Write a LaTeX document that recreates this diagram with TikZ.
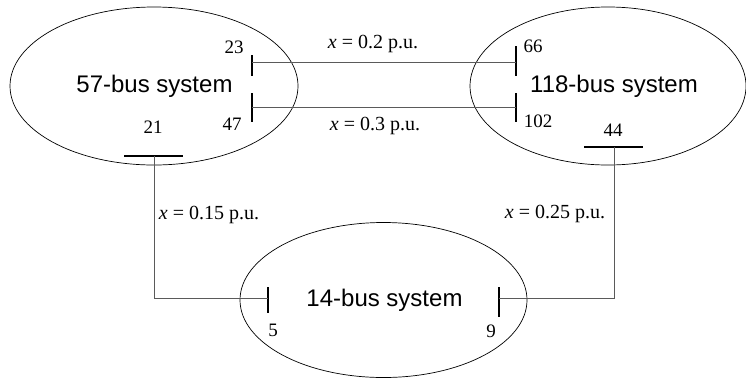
\documentclass[tikz,border=0pt]{standalone}
\usepackage{fontspec}
\setmainfont{Liberation Serif}
\setsansfont{Liberation Sans}
\usetikzlibrary{shapes.geometric}
\definecolor{tiegray}{RGB}{90,90,90}

\begin{document}
\begin{tikzpicture}[x=1pt,y=-1pt,
  area/.style={draw,ellipse,line width=0.7pt,inner sep=0pt},
  sysname/.style={font=\sffamily\fontsize{24}{28}\selectfont},
  busbar/.style={line width=2.6pt},
  tie/.style={tiegray,line width=1pt},
  busno/.style={font=\fontsize{19}{21}\selectfont,inner sep=0pt},
  react/.style={font=\fontsize{20}{22}\selectfont,inner sep=0pt}]
\useasboundingbox (0,0) rectangle (746,381);
\node[area,minimum width=288,minimum height=158] (sys57) at (154,86) {};
\node[area,minimum width=276,minimum height=158] (sys118) at (608,86) {};
\node[area,minimum width=287,minimum height=155] (sys14) at (383.5,300) {};
\node[sysname] (t57) at (154.5,86) {57-bus system};
\node[sysname] (t118) at (614,86) {118-bus system};
\node[sysname] (t14) at (384.5,300) {14-bus system};

\draw[busbar] (252,55)--(252,76); \coordinate (b23) at (252,62);
\draw[busbar] (252,93)--(252,122); \coordinate (b47) at (252,107);
\draw[busbar] (124,156)--(183,156); \coordinate (b21) at (154,156);
\draw[busbar] (516,46)--(516,76); \coordinate (b66) at (516,62);
\draw[busbar] (516,93)--(516,122); \coordinate (b102) at (516,107);
\draw[busbar] (584,147)--(643,147); \coordinate (b44) at (614,147);
\draw[busbar] (268,287)--(268,313); \coordinate (b5) at (268,298);
\draw[busbar] (499,287)--(499,317); \coordinate (b9) at (499,298);

\node[busno] (n23) at (234,47) {23};
\node[busno] (n47) at (232,124) {47};
\node[busno] (n21) at (153,127) {21};
\node[busno] (n66) at (533,46) {66};
\node[busno] (n102) at (538,121) {102};
\node[busno] (n44) at (613,130) {44};
\node[busno] (n5) at (273,330) {5};
\node[busno] (n9) at (491,331) {9};

\draw[tie] (b23) -- (b66);
\draw[tie] (b47) -- (b102);
\draw[tie] (b21) |- (b5);
\draw[tie] (b44) |- (b9);

\node[react] (x23) at (373,44) {\textit{x} = 0.2 p.u.};
\node[react] (x47) at (375,126) {\textit{x} = 0.3 p.u.};
\node[react] (x21) at (209,215) {\textit{x} = 0.15 p.u.};
\node[react] (x44) at (555,214) {\textit{x} = 0.25 p.u.};
\end{tikzpicture}
\end{document}
